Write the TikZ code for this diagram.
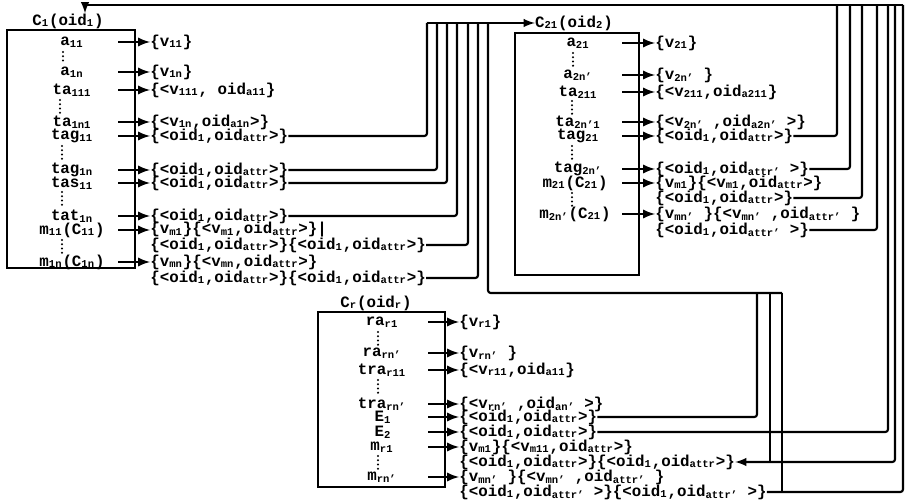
\documentclass[tikz,border=0pt]{standalone}
\usepackage{fontspec}
\setmainfont{Liberation Mono}
\usepackage{tikz}
\tikzset{>=latex}
\usetikzlibrary{arrows.meta}
\newcommand{\lo}[1]{\textsubscript{#1}}
\tikzset{
  every node/.style={font=\bfseries\fontsize{9}{9}\selectfont, inner sep=0pt},
  val/.style={anchor=west},
  ellip/.style={line width=1.3pt, line cap=round, dash pattern=on 0pt off 2.4pt},
  box/.style={line width=1.6pt},
  attr/.style={<-, line width=1.3pt},
  link/.style={line width=1.2pt, rounded corners=1.5pt},
}

\begin{document}
\begin{tikzpicture}[x=0.02cm, y=-0.02cm]
\useasboundingbox (0,0) rectangle (905,502);

% object C1
\draw[box] (7,30) rectangle (135,268);
\node (c1t) at (68,21) {C\lo{1}(oid\lo{1})};
\node (n1r1) at (72,42) {a\lo{11}};
\node (n1r2) at (72,72) {a\lo{1n}};
\node (n1r3) at (72,90) {ta\lo{111}};
\node (n1r4) at (72,122) {ta\lo{1n1}};
\node (n1r5) at (72,136) {tag\lo{11}};
\node (n1r6) at (72,170) {tag\lo{1n}};
\node (n1r7) at (72,183) {tas\lo{11}};
\node (n1r8) at (72,216) {tat\lo{1n}};
\node (n1r9) at (72,230) {m\lo{11}(C\lo{11})};
\node (n1r10) at (72,262) {m\lo{1n}(C\lo{1n})};
\draw[ellip] (63,52) -- (63,64);
\draw[ellip] (60,100) -- (60,116);
\draw[ellip] (62,146) -- (62,162);
\draw[ellip] (62,192) -- (62,208);
\draw[ellip] (62,240) -- (62,254);

\node[val] (v1r1) at (150,42) {\{v\lo{11}\}};
\node[val] (v1r2) at (150,72) {\{v\lo{1n}\}};
\node[val] (v1r3) at (150,90) {\{<v\lo{111}, oid\lo{a11}\}};
\node[val] (v1r4) at (150,122) {\{<v\lo{1n},oid\lo{a1n}>\}};
\node[val] (v1r5) at (150,136) {\{<oid\lo{1},oid\lo{attr}>\}};
\node[val] (v1r6) at (150,170) {\{<oid\lo{1},oid\lo{attr}>\}};
\node[val] (v1r7) at (150,183) {\{<oid\lo{1},oid\lo{attr}>\}};
\node[val] (v1r8) at (150,216) {\{<oid\lo{1},oid\lo{attr}>\}};
\node[val] (v1r9) at (150,230) {\{v\lo{m1}\}\{<v\lo{m1},oid\lo{attr}>\}|};
\node[val] (v1r9b) at (150,245) {\{<oid\lo{1},oid\lo{attr}>\}\{<oid\lo{1},oid\lo{attr}>\}};
\node[val] (v1r10) at (150,262) {\{v\lo{mn}\}\{<v\lo{mn},oid\lo{attr}>\}};
\node[val] (v1r10b) at (150,278) {\{<oid\lo{1},oid\lo{attr}>\}\{<oid\lo{1},oid\lo{attr}>\}};

\draw[attr] (v1r1.west) -- ++(-32,0);
\draw[attr] (v1r2.west) -- ++(-32,0);
\draw[attr] (v1r3.west) -- ++(-32,0);
\draw[attr] (v1r4.west) -- ++(-32,0);
\draw[attr] (v1r5.west) -- ++(-32,0);
\draw[attr] (v1r6.west) -- ++(-32,0);
\draw[attr] (v1r7.west) -- ++(-32,0);
\draw[attr] (v1r8.west) -- ++(-32,0);
\draw[attr] (v1r9.west) -- ++(-32,0);
\draw[attr] (v1r10.west) -- ++(-32,0);

% object C2
\draw[box] (515,33) rectangle (639,275);
\node (c2t) at (574,23) {C\lo{21}(oid\lo{2})};
\node (n2r1) at (578,43) {a\lo{21}};
\node (n2r2) at (578,75) {a\lo{2n'}};
\node (n2r3) at (578,92) {ta\lo{211}};
\node (n2r4) at (578,122) {ta\lo{2n'1}};
\node (n2r5) at (578,136) {tag\lo{21}};
\node (n2r6) at (578,169) {tag\lo{2n'}};
\node (n2r7) at (575,183) {m\lo{21}(C\lo{21})};
\node (n2r8) at (575,214) {m\lo{2n'}(C\lo{21})};
\draw[ellip] (573,53) -- (573,66);
\draw[ellip] (572,101) -- (572,115);
\draw[ellip] (572,146) -- (572,160);
\draw[ellip] (572,193) -- (572,206);

\node[val] (v2r1) at (655,43) {\{v\lo{21}\}};
\node[val] (v2r2) at (655,75) {\{v\lo{2n'} \}};
\node[val] (v2r3) at (655,92) {\{<v\lo{211},oid\lo{a211}\}};
\node[val] (v2r4) at (655,122) {\{<v\lo{2n'} ,oid\lo{a2n'} >\}};
\node[val] (v2r5) at (655,136) {\{<oid\lo{1},oid\lo{attr}>\}};
\node[val] (v2r6) at (655,169) {\{<oid\lo{1},oid\lo{attr'} >\}};
\node[val] (v2r7) at (655,183) {\{v\lo{m1}\}\{<v\lo{m1},oid\lo{attr}>\}};
\node[val] (v2r7b) at (655,198) {\{<oid\lo{1},oid\lo{attr}>\}};
\node[val] (v2r8) at (655,214) {\{v\lo{mn'} \}\{<v\lo{mn'} ,oid\lo{attr'} \}};
\node[val] (v2r8b) at (655,230) {\{<oid\lo{1},oid\lo{attr'} >\}};

\draw[attr] (v2r1.west) -- ++(-33,0);
\draw[attr] (v2r2.west) -- ++(-33,0);
\draw[attr] (v2r3.west) -- ++(-33,0);
\draw[attr] (v2r4.west) -- ++(-33,0);
\draw[attr] (v2r5.west) -- ++(-33,0);
\draw[attr] (v2r6.west) -- ++(-33,0);
\draw[attr] (v2r7.west) -- ++(-33,0);
\draw[attr] (v2r8.west) -- ++(-33,0);

% object Cr
\draw[box] (318,312) rectangle (445,487);
\node (c3t) at (376,303) {C\lo{r}(oid\lo{r})};
\node (n3r1) at (382,322) {ra\lo{r1}};
\node (n3r2) at (382,353) {ra\lo{rn'}};
\node (n3r3) at (382,370) {tra\lo{r11}};
\node (n3r4) at (382,404) {tra\lo{rn'}};
\node (n3r5) at (383,417) {E\lo{1}};
\node (n3r6) at (383,432) {E\lo{2}};
\node (n3r7) at (382,447) {m\lo{r1}};
\node (n3r8) at (382,477) {m\lo{rn'}};
\draw[ellip] (378,332) -- (378,345);
\draw[ellip] (378,380) -- (378,395);
\draw[ellip] (378,456) -- (378,469);

\node[val] (v3r1) at (459,322) {\{v\lo{r1}\}};
\node[val] (v3r2) at (459,353) {\{v\lo{rn'} \}};
\node[val] (v3r3) at (459,370) {\{<v\lo{r11},oid\lo{a11}\}};
\node[val] (v3r4) at (459,404) {\{<v\lo{rn'} ,oid\lo{an'} >\}};
\node[val] (v3r5) at (459,417) {\{<oid\lo{1},oid\lo{attr}>\}};
\node[val] (v3r6) at (459,432) {\{<oid\lo{1},oid\lo{attr}>\}};
\node[val] (v3r7) at (459,447) {\{v\lo{m1}\}\{<v\lo{m11},oid\lo{attr}>\}};
\node[val] (v3r7b) at (459,462) {\{<oid\lo{1},oid\lo{attr}>\}\{<oid\lo{1},oid\lo{attr}>\}};
\node[val] (v3r8) at (459,477) {\{v\lo{mn'} \}\{<v\lo{mn'} ,oid\lo{attr'} \}};
\node[val] (v3r8b) at (459,492) {\{<oid\lo{1},oid\lo{attr'} >\}\{<oid\lo{1},oid\lo{attr'} >\}};

\draw[attr] (v3r1.west) -- ++(-31,0);
\draw[attr] (v3r2.west) -- ++(-31,0);
\draw[attr] (v3r3.west) -- ++(-31,0);
\draw[attr] (v3r4.west) -- ++(-31,0);
\draw[attr] (v3r5.west) -- ++(-31,0);
\draw[attr] (v3r6.west) -- ++(-31,0);
\draw[attr] (v3r7.west) -- ++(-31,0);
\draw[attr] (v3r8.west) -- ++(-31,0);

% references into C2
\coordinate (in2) at (427,23);
\coordinate (bus) at (488,293);
\coordinate (t7) at (770,293);
\coordinate (t8) at (782,293);
\draw[link,->] (in2) -- (c2t.west);
\draw[link] (v1r5.east) -| (in2);
\draw[link] (v1r6.east) -| (437,23);
\draw[link] (v1r7.east) -| (447,23);
\draw[link] (v1r8.east) -| (457,23);
\draw[link] (v1r9b.east) -| (468,23);
\draw[link] (v1r10b.east) -| (478,23);
\draw[link] (488,23) -- (bus) -- (t8);
\draw[link] (v3r5.east) -| (757,293);
\draw[link] (t7) -- (t7 |- v3r7b.east);
\draw[link] (t8) -- (t8 |- v3r8b.east);

% references into C1
\coordinate (in1) at (85,5);
\draw[link,->] (in1) -- (in1 |- c1t.north);
\draw[link] (903,5) -- (in1);
\draw[link] (v2r5.east) -| (837,5);
\draw[link] (v2r6.east) -| (850,5);
\draw[link] (v2r7b.east) -| (862,5);
\draw[link] (v2r8b.east) -| (877,5);
\draw[link] (v3r6.east) -| (888,5);
\draw[link,<-] (v3r7b.east) -| (895,5);
\draw[link] (v3r8b.east) -| (903,5);
\end{tikzpicture}
\end{document}
